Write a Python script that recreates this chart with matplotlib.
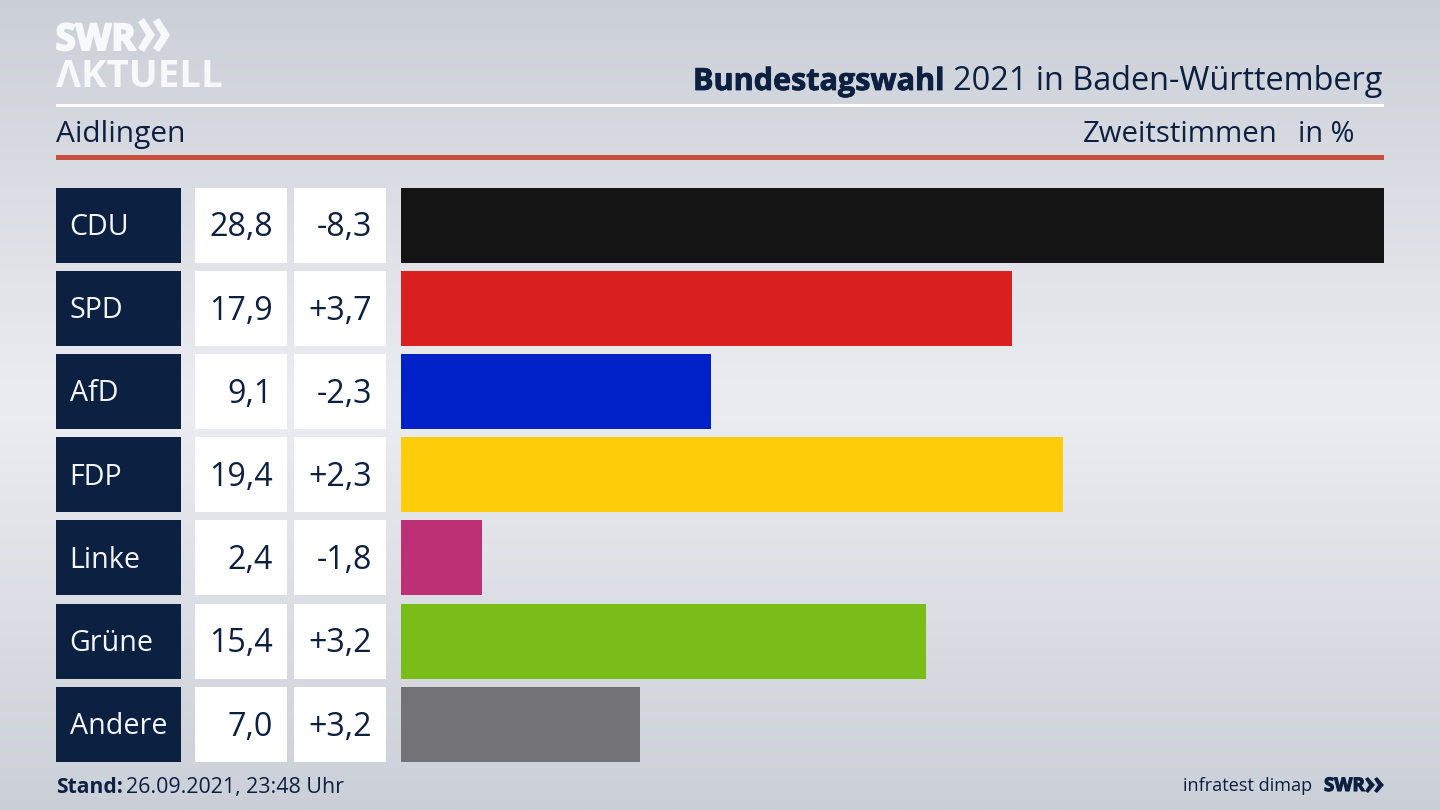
import numpy as np
import matplotlib
matplotlib.use("Agg")
import matplotlib.pyplot as plt
import matplotlib.patheffects as pe
from matplotlib.patches import Rectangle, Polygon

# Daten
parteien = ["CDU", "SPD", "AfD", "FDP", "Linke", "Grüne", "Andere"]
anteile = [28.8, 17.9, 9.1, 19.4, 2.4, 15.4, 7.0]
anteile_text = ["28,8", "17,9", "9,1", "19,4", "2,4", "15,4", "7,0"]
diff_text = ["-8,3", "+3,7", "-2,3", "+2,3", "-1,8", "+3,2", "+3,2"]
farben = ["#141414", "#da1f1f", "#0021c8", "#ffcc0a", "#bd3075", "#7abd19", "#737375"]

navy = "#0c2041"
hell = "#f7f8fa"
font = "Open Sans"

fig = plt.figure(figsize=(14.4, 8.1), dpi=100)

# Hintergrund
bg = fig.add_axes([0, 0, 1, 1])
c_top = np.array([0xcb, 0xcf, 0xd7]) / 255
c_mid = np.array([0xec, 0xed, 0xf2]) / 255
t = np.abs(np.linspace(0, 1, 400) - 0.5) * 2
grad = (c_mid[None, :] * (1 - t[:, None]) + c_top[None, :] * t[:, None])[:, None, :]
bg.imshow(grad, aspect="auto", extent=[0, 1440, 810, 0])
bg.set_xlim(0, 1440)
bg.set_ylim(810, 0)
bg.axis("off")

# Balken
y_top = 187.5
pitch = 83.2
h = 75
n = len(parteien)
y_bottom = y_top + pitch * (n - 1) + h
ax = fig.add_axes([400.5 / 1440, 1 - y_bottom / 810, (1384 - 400.5) / 1440, (y_bottom - y_top) / 810])
ax.set_facecolor("none")
pos = np.arange(n)
ax.barh(pos, anteile, height=h / pitch, color=farben)
ax.set_xlim(0, 28.8)
ax.set_ylim(n - 1 + (h / pitch) / 2, -(h / pitch) / 2)
ax.axis("off")

# Tabelle links
for i in range(n):
    y = y_top + pitch * i
    bg.add_patch(Rectangle((56, y), 125, h, color=navy, lw=0))
    bg.add_patch(Rectangle((195, y), 92, h, color="white", lw=0))
    bg.add_patch(Rectangle((294, y), 92, h, color="white", lw=0))
    bg.text(69.5, y + h / 2 - 1, parteien[i], color="#f4f5f8", fontsize=20.6, family=font, va="center_baseline")
    bg.text(273, y + h / 2 - 1, anteile_text[i], color=navy, fontsize=23.2, family=font, ha="right", va="center_baseline")
    bg.text(372.5, y + h / 2 - 1, diff_text[i], color=navy, fontsize=23.2, family=font, ha="right", va="center_baseline")

# Kopf
bg.add_patch(Rectangle((56, 104), 1328, 3, color="white", lw=0))
bg.add_patch(Rectangle((56, 155), 1328, 5, color="#c8503c", lw=0))
bg.text(693, 90, "Bundestagswahl", color=navy, fontsize=22, family=font, weight="bold",
        path_effects=[pe.withStroke(linewidth=0.6, foreground=navy)])
bg.text(953, 90, "2021 in Baden-Württemberg", color=navy, fontsize=23.4, family=font)
bg.text(56, 142, "Aidlingen", color=navy, fontsize=21.5, family=font)
bg.text(1083, 142, "Zweitstimmen", color=navy, fontsize=21.2, family=font)
bg.text(1355, 142, "in %", color=navy, fontsize=20.8, family=font, ha="right")

# Logo
bg.text(55.5, 50, "SWR", color=hell, fontsize=26.5, family=font, weight="bold",
        path_effects=[pe.withStroke(linewidth=1.5, foreground=hell)])
bg.text(55.5, 87, "ΛKTUELL", color=hell, fontsize=27.6, family=font, weight="bold")
for x0 in (138, 153):
    bg.add_patch(Polygon([(x0, 22), (x0 + 6, 18), (x0 + 17, 35), (x0 + 6, 52), (x0, 48), (x0 + 8, 35)], color=hell, lw=0))

# Fuss
bg.text(56, 793, "Stand:", color=navy, fontsize=15.1, family=font, weight="bold")
bg.text(126, 793, "26.09.2021, 23:48 Uhr", color=navy, fontsize=15.4, family=font)
bg.text(1312, 791, "infratest dimap", color=navy, fontsize=13.1, family=font, ha="right")
bg.text(1324, 791, "SWR", color=navy, fontsize=13.5, family=font, weight="bold",
        path_effects=[pe.withStroke(linewidth=0.8, foreground=navy)])
for x0 in (1365, 1374):
    bg.add_patch(Polygon([(x0, 779), (x0 + 3, 777), (x0 + 10, 785), (x0 + 3, 793), (x0, 791), (x0 + 4, 785)], color=navy, lw=0))

fig.savefig("out.png", dpi=100)
